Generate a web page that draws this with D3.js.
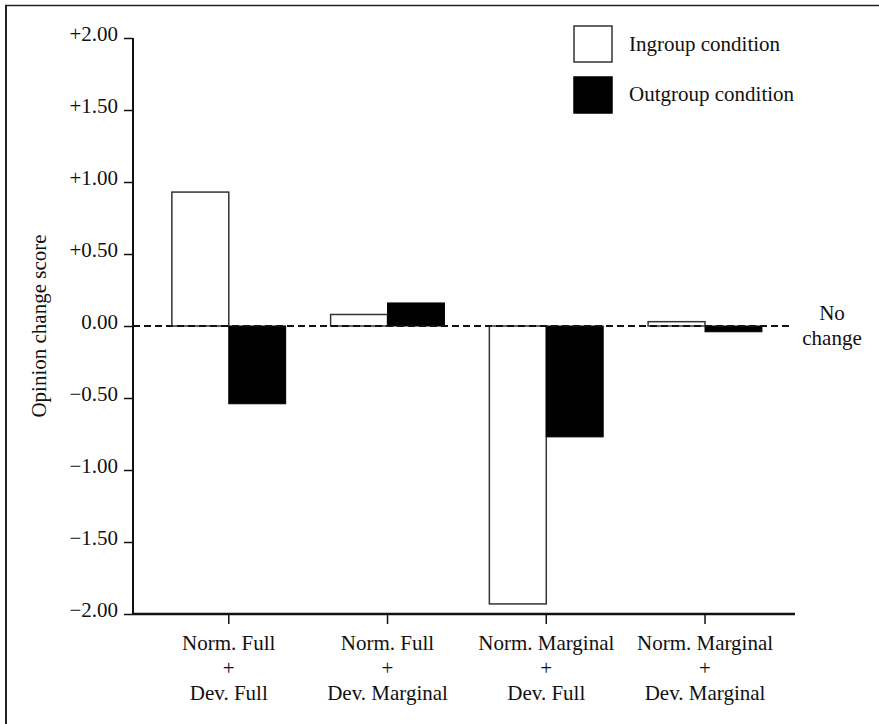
<!DOCTYPE html>
<html><head><meta charset="utf-8">
<script src="https://cdn.jsdelivr.net/npm/d3@7"></script>
<style>body{margin:0;background:#fff}</style>
</head><body><svg id="c" width="879" height="724"></svg>
<script>
const categories = [["Norm. Full","+","Dev. Full"],["Norm. Full","+","Dev. Marginal"],["Norm. Marginal","+","Dev. Full"],["Norm. Marginal","+","Dev. Marginal"]];
const seriesNames = ["Ingroup condition","Outgroup condition"];
const ingroup = [0.93, 0.08, -1.93, 0.03];
const outgroup = [-0.54, 0.16, -0.77, -0.04];
const yTicks = [2, 1.5, 1, 0.5, 0, -0.5, -1, -1.5, -2];
const yTickLabels = ["+2.00","+1.50","+1.00","+0.50","0.00","\u22120.50","\u22121.00","\u22121.50","\u22122.00"];

const FONT = '"Liberation Serif", "Times New Roman", Tinos, serif';
const FS = 21;
const svg = d3.select("#c").style("font-family", FONT);
function txt(sel){ return sel.style("font-family", FONT).style("font-size", FS+"px").attr("fill","#111"); }

// frame
svg.append("line").attr("x1",5).attr("x2",879).attr("y1",5.5).attr("y2",5.5).attr("stroke","#222").attr("stroke-width",1.5);
svg.append("line").attr("x1",6).attr("x2",6).attr("y1",5).attr("y2",724).attr("stroke","#222").attr("stroke-width",2);

const keys = categories.map((c,i)=>i);
const x0 = d3.scaleBand().domain(keys).range([149.4,784.4]).paddingInner(0.283).paddingOuter(0.1415);
const x1 = d3.scaleBand().domain([0,1]).range([0,x0.bandwidth()]);
const y = d3.scaleLinear().domain([-2,2]).range([614,38]);
const axisLeftX = 133, axisRightX = 795;

// bars
const data = keys.map(i=>[ingroup[i], outgroup[i]]);
const g = svg.append("g");
keys.forEach(i=>{
  data[i].forEach((v,s)=>{
    g.append("rect")
      .attr("x", x0(i)+x1(s))
      .attr("width", x1.bandwidth())
      .attr("y", y(Math.max(0,v)))
      .attr("height", Math.abs(y(v)-y(0)))
      .attr("fill", s===0?"#fff":"#000")
      .attr("stroke", s===0?"#333":"#000")
      .attr("stroke-width", s===0?1.5:1);
  });
});

// y axis
const yAxis = d3.axisLeft(y).tickValues(yTicks).tickFormat((d,i)=>yTickLabels[i]).tickSize(9).tickPadding(6);
const ya = svg.append("g").attr("transform",`translate(${axisLeftX},0)`).call(yAxis);
ya.attr("font-family", null).attr("font-size", null);
ya.select(".domain").attr("stroke","#111").attr("stroke-width",2).attr("d",`M0,${y(2)}V${y(-2)}`);
ya.selectAll(".tick line").attr("stroke","#111").attr("stroke-width",1.5);
txt(ya.selectAll(".tick text")).attr("dy","0.12em");

// x axis
const xa = svg.append("g").attr("transform",`translate(0,${y(-2)})`)
  .call(d3.axisBottom(x0).tickSize(10).tickFormat(""));
xa.attr("font-family", null).attr("font-size", null);
xa.select(".domain").attr("stroke","#111").attr("stroke-width",2.5).attr("d",`M${axisLeftX},0H${axisRightX}`);
xa.selectAll(".tick line").attr("stroke","#111").attr("stroke-width",1.5);
xa.selectAll(".tick").each(function(d){
  const t = d3.select(this);
  categories[d].forEach((line,j)=>{
    txt(t.append("text").attr("x",0).attr("y",36+j*25).attr("text-anchor","middle")).text(line);
  });
});

// zero dashed line
svg.append("line").attr("x1",axisLeftX).attr("x2",790).attr("y1",y(0)).attr("y2",y(0))
  .attr("stroke","#111").attr("stroke-width",2).attr("stroke-dasharray","7,4");
txt(svg.append("text").attr("x",832).attr("y",320).attr("text-anchor","middle")).text("No");
txt(svg.append("text").attr("x",832).attr("y",345).attr("text-anchor","middle")).text("change");

// y title
txt(svg.append("text").attr("transform",`translate(46,${y(0)}) rotate(-90)`).attr("text-anchor","middle")).text("Opinion change score");

// legend
seriesNames.forEach((n,s)=>{
  svg.append("rect").attr("x",574).attr("y",26+s*51).attr("width",38).attr("height",36)
    .attr("fill",s===0?"#fff":"#000").attr("stroke",s===0?"#333":"#000").attr("stroke-width",1.5);
  txt(svg.append("text").attr("x",629).attr("y",51+s*50)).text(n);
});
</script></body></html>
